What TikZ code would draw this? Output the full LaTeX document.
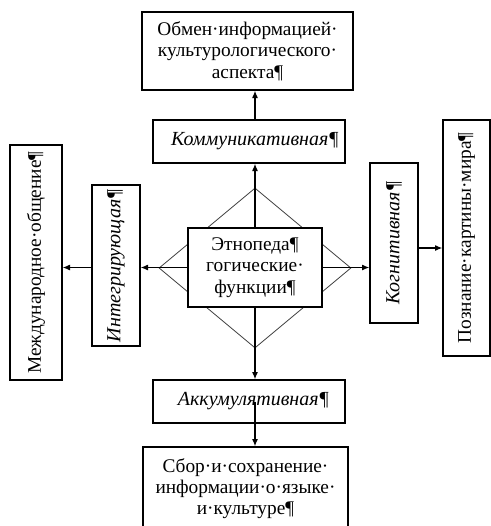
\documentclass[tikz,border=0pt]{standalone}
\usepackage{fontspec}
\setmainfont{Liberation Serif}
\usetikzlibrary{arrows.meta,shapes.geometric}
\begin{document}
\begin{tikzpicture}[x=0.75pt,y=-0.75pt,
  box/.style={draw,line width=1pt,fill=white,inner sep=0pt,align=center,
    font=\fontsize{14.5}{16}\selectfont},
  ibox/.style={box,font=\fontsize{15}{16}\selectfont\itshape},
  arr/.style={line width=0.9pt,-{Latex[length=5.5pt,width=4.5pt]}},
  dia/.style={draw=black!75,line width=0.6pt,shape=diamond,inner sep=0pt}]
\clip (0,0) rectangle (491,526);
\fill[white] (0,0) rectangle (491,526);
% diamond behind the centre box
\node[dia,minimum width=144pt,minimum height=120pt] (dm) at (255,268) {};
% boxes
\node[box,minimum width=158.25pt,minimum height=58.5pt] (top) at (247.5,51)
  {Обмен·информацией·\\культурологического·\\аспекта¶};
\node[ibox,minimum width=144pt,minimum height=32.25pt] (komm) at (249,141.5)
  {\hspace*{9pt}Коммуникативная¶};
\node[box,minimum width=100.5pt,minimum height=59.25pt] (cen) at (255,267.5)
  {Этнопеда¶\\гогические·\\функции¶};
\node[ibox,rotate=90,minimum width=120.75pt,minimum height=36pt] (integr) at (116,265.5)
  {Интегрирующая¶};
\node[box,rotate=90,minimum width=176.25pt,minimum height=39pt] (mezh) at (36,262.5)
  {Международное·общение¶};
\node[ibox,rotate=90,minimum width=120pt,minimum height=36pt] (kogn) at (394,243)
  {Когнитивная¶};
\node[box,rotate=90,minimum width=177pt,minimum height=35.25pt] (pozn) at (466.5,238)
  {Познание·картины·мира¶};
\node[ibox,minimum width=144pt,minimum height=32.25pt] (akk) at (249,401.5)
  {\hspace*{6.75pt}Аккумулятивная¶};
\node[box,minimum width=153.75pt,minimum height=62.25pt] (bot) at (245.5,488.5)
  {Сбор·и·сохранение·\\информации·о·языке·\\и·культуре¶};
% connectors
\draw[arr] (cen.north) -- (cen.north |- komm.south);
\draw[arr] (cen.north |- komm.north) -- (cen.north |- top.south);
\draw[arr] (cen.south) -- (cen.south |- akk.north);
\draw[arr] (cen.south |- akk.center) -- (cen.south |- bot.north);
\draw[arr] (cen.west) -- (cen.west -| integr.south);
\draw[arr] (cen.west -| integr.north) -- (cen.west -| mezh.south);
\draw[arr] (cen.east) -- (cen.east -| kogn.north);
\coordinate (kr) at ([yshift=-3.75pt]kogn.south);
\draw[arr] (kr) -- (kr -| pozn.north);
\end{tikzpicture}
\end{document}
